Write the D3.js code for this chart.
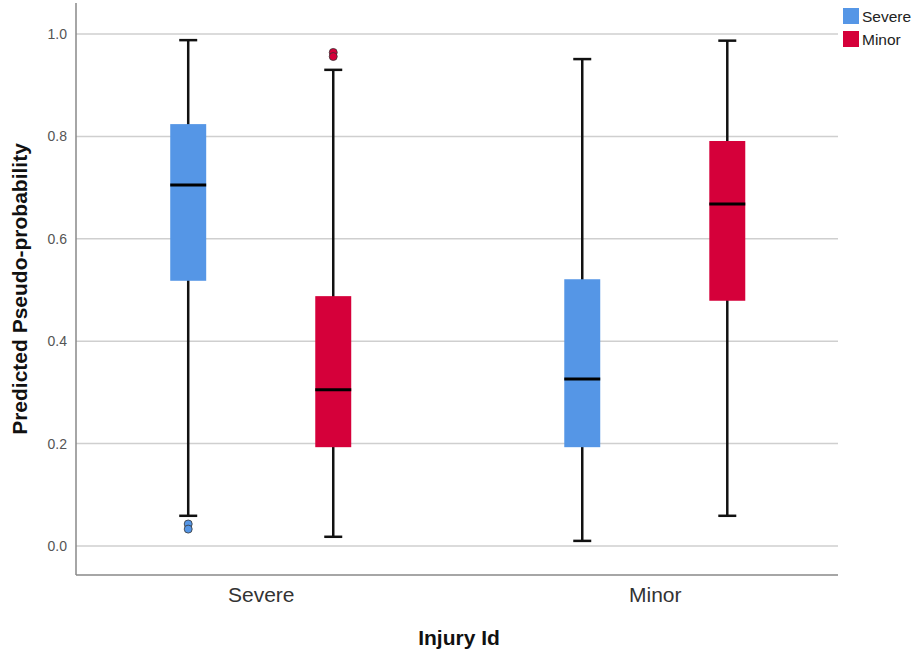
<!DOCTYPE html>
<html><head><meta charset="utf-8">
<script src="https://cdn.jsdelivr.net/npm/d3@7"></script>
<style>body{margin:0;background:#fff;} text{font-family:"Liberation Sans",Arial,sans-serif;}</style>
</head><body>
<svg id="chart" width="916" height="651"></svg>
<script>
const categories = ["Severe", "Minor"];
const series = ["Severe", "Minor"];
const seriesColors = ["#5596e6", "#d5003a"];
// per category, per series: [lowWhisker, q1, median, q3, highWhisker]
const severeStats = [[0.059, 0.518, 0.705, 0.824, 0.988], [0.018, 0.193, 0.305, 0.488, 0.930]];
const minorStats  = [[0.010, 0.193, 0.326, 0.521, 0.951], [0.059, 0.479, 0.668, 0.791, 0.987]];
const severeOutliers = [[0.043, 0.033], [0.964, 0.956]];
const minorOutliers  = [[], []];
const yTicks = [0.0, 0.2, 0.4, 0.6, 0.8, 1.0];

const statsByCat = [severeStats, minorStats];
const outByCat = [severeOutliers, minorOutliers];

const svg = d3.select("#chart");
const L = 76, R = 838, T = 3, B = 575;

const y = d3.scaleLinear().domain([0, 1]).range([546, 34]);
const x = d3.scalePoint().domain(categories).range([L + 1.5, R]).padding(0.465);
const xs = d3.scaleBand().domain(series).range([-90.5, 90.5]).paddingInner(0.752);
const color = d3.scaleOrdinal().domain(series).range(seriesColors);

// gridlines
svg.append("g").selectAll("line").data(yTicks).join("line")
  .attr("x1", L).attr("x2", R).attr("y1", d => y(d)).attr("y2", d => y(d))
  .attr("stroke", "#cfcfcf").attr("stroke-width", 1.5);

// y axis
const yAxis = svg.append("g").attr("transform", `translate(${L},0)`)
  .call(d3.axisLeft(y).tickValues(yTicks).tickFormat(d3.format(".1f")).tickSize(0).tickPadding(9));
yAxis.select(".domain").remove();
yAxis.selectAll("text").attr("font-size", 14).attr("fill", "#555").attr("font-family", "Liberation Sans, Arial, sans-serif");

// axis lines
svg.append("line").attr("x1", L).attr("x2", L).attr("y1", T).attr("y2", B).attr("stroke", "#888").attr("stroke-width", 1.5);
svg.append("line").attr("x1", L).attr("x2", R).attr("y1", B).attr("y2", B).attr("stroke", "#888").attr("stroke-width", 1.5);

// x axis labels
const xAxis = svg.append("g").attr("transform", `translate(0,${B})`)
  .call(d3.axisBottom(x).tickSize(0).tickPadding(12));
xAxis.select(".domain").remove();
xAxis.selectAll("text").attr("font-size", 21).attr("fill", "#333").attr("font-family", "Liberation Sans, Arial, sans-serif");

// boxes
categories.forEach((cat, ci) => {
  series.forEach((s, si) => {
    const st = statsByCat[ci][si];
    const cx = x(cat) + xs(s) + xs.bandwidth() / 2;
    const x0 = x(cat) + xs(s);
    const w = xs.bandwidth();
    const g = svg.append("g");
    g.append("line").attr("x1", cx).attr("x2", cx).attr("y1", y(st[0])).attr("y2", y(st[4])).attr("stroke", "#111").attr("stroke-width", 2.5);
    [st[0], st[4]].forEach(v => {
      g.append("line").attr("x1", cx - 9).attr("x2", cx + 9).attr("y1", y(v)).attr("y2", y(v)).attr("stroke", "#111").attr("stroke-width", 2.5);
    });
    g.append("rect").attr("x", x0).attr("width", w).attr("y", y(st[3])).attr("height", y(st[1]) - y(st[3]))
      .attr("fill", color(s));
    g.append("line").attr("x1", x0).attr("x2", x0 + w).attr("y1", y(st[2])).attr("y2", y(st[2])).attr("stroke", "#000").attr("stroke-width", 3);
    outByCat[ci][si].forEach(v => {
      g.append("circle").attr("cx", cx).attr("cy", y(v)).attr("r", 4).attr("fill", color(s)).attr("stroke", "#333").attr("stroke-width", 0.8);
    });
  });
});

// axis titles
svg.append("text").attr("transform", "translate(27,289) rotate(-90)").attr("text-anchor", "middle")
  .attr("font-size", 21).attr("font-weight", "bold").attr("fill", "#111").text("Predicted Pseudo-probability");
svg.append("text").attr("x", 459).attr("y", 645).attr("text-anchor", "middle")
  .attr("font-size", 21).attr("font-weight", "bold").attr("fill", "#111").text("Injury Id");

// legend
const lg = svg.append("g").attr("transform", "translate(843,8)");
series.forEach((s, i) => {
  lg.append("rect").attr("x", 0).attr("y", i * 23).attr("width", 16).attr("height", 16).attr("fill", color(s));
  lg.append("text").attr("x", 19).attr("y", i * 23 + 14).attr("font-size", 15.5).attr("fill", "#222").text(s);
});
</script>
</body></html>
